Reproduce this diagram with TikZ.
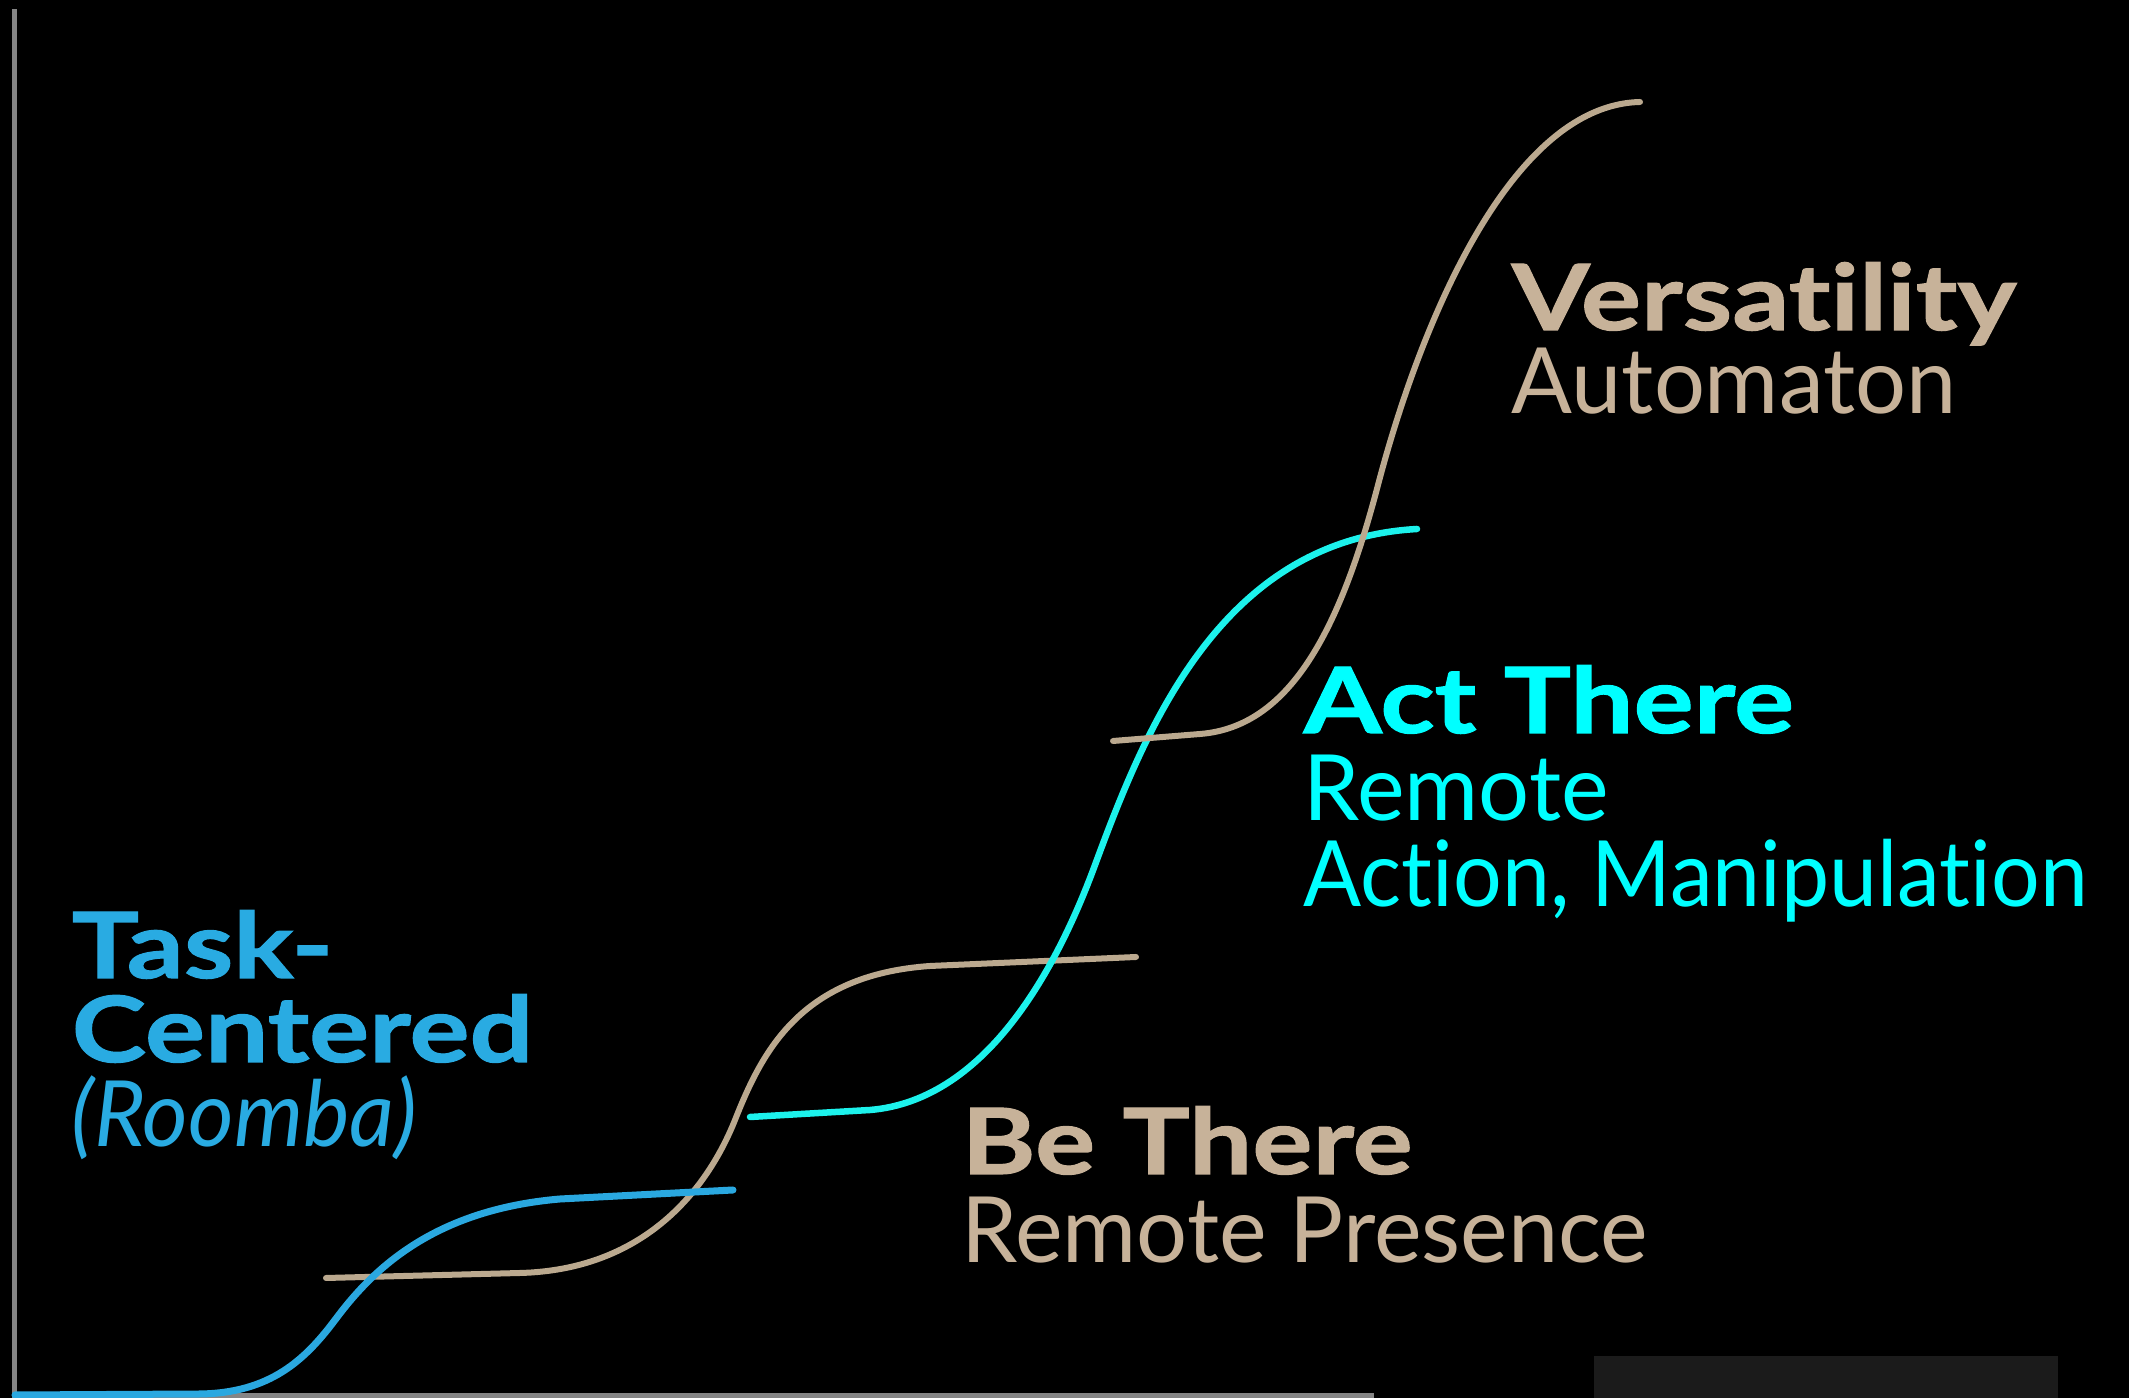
\documentclass[tikz,border=0pt]{standalone}
\usepackage{fontspec}
\setmainfont{Lato}[Ligatures=NoCommon, FakeStretch=0.985]
\newfontfamily\headfont{Lato}[Ligatures=NoCommon, FakeStretch=1.23, FakeBold=1.2]
\newfontfamily\notefont{Lato}[Ligatures=NoCommon, FakeStretch=0.96]
\newfontfamily\tightfont{Lato}[Ligatures=NoCommon, FakeStretch=0.94]
\definecolor{tantext}{HTML}{C7B299}
\definecolor{tanline}{HTML}{BBA98F}
\definecolor{cyantext}{HTML}{00FFFF}
\definecolor{cyanline}{HTML}{1CF2EC}
\definecolor{bluetext}{HTML}{29ABE2}
\definecolor{blueline}{HTML}{2AA8E0}
\definecolor{axisgray}{HTML}{858585}
\definecolor{boxgray}{HTML}{1B1B1B}
\tikzset{
  heading/.style={inner sep=0pt, anchor=base west, font=\headfont\bfseries\fontsize{26}{30}\selectfont},
  subline/.style={inner sep=0pt, anchor=base west, font=\fontsize{26}{30}\selectfont},
  noteline/.style={inner sep=0pt, anchor=base west, font=\notefont\itshape\fontsize{26}{30}\selectfont},
  stage/.style={line width=0.06cm, line cap=round, line join=round},
}
\begin{document}
\begin{tikzpicture}[x=0.01cm, y=-0.01cm]
  % canvas
  \fill[black] (0,0) rectangle (2129,1398);
  \useasboundingbox (0,0) rectangle (2129,1398);

  % axes
  \fill[axisgray] (12,9) rectangle (17,1398);
  \fill[axisgray] (12,1393) rectangle (1374,1398);

  % dark tab at the lower right
  \fill[boxgray] (1594,1356) rectangle (2058,1398);

  % stage curves: flat start, steep rise, flat plateau
  \draw[stage, tanline] (326,1278) -- (520,1273)
    .. controls (640,1270) and (705,1195) .. (735,1120)
    .. controls (762,1052) and (800,975) .. (930,966) -- (1136,957);
  \draw[stage, blueline, line width=0.07cm] (15,1395) -- (200,1394)
    .. controls (270,1393) and (305,1360) .. (335,1320)
    .. controls (370,1273) and (430,1210) .. (560,1199) -- (733,1190);
  \draw[stage, cyanline, line width=0.065cm] (750,1117) -- (870,1110)
    .. controls (990,1100) and (1060,960) .. (1095,865)
    .. controls (1145,730) and (1220,540) .. (1417,529);
  \draw[stage, tanline] (1113,741) -- (1200,734)
    .. controls (1290,727) and (1340,630) .. (1378,485)
    .. controls (1420,325) and (1510,105) .. (1640,102);

  % labels
  \node[heading, text=tantext] (vers) at (1511,330) {Versatility};
  \node[subline, text=tantext] (auto) at (1511,414) {Automaton};

  \node[heading, text=cyantext] (act) at (1303,733) {Act There};
  \node[subline, text=cyantext] (remote) at (1303,821) {Remote};
  \node[subline, text=cyantext, font=\tightfont\fontsize{26}{30}\selectfont] (manip) at (1303,907) {Action, Manipulation};

  \node[heading, text=tantext] (be) at (961,1174) {Be There};
  \node[subline, text=tantext] (presence) at (961,1263) {Remote Presence};

  \node[heading, text=bluetext] (task) at (71,978) {Task-};
  \node[heading, text=bluetext] (centered) at (71,1062) {Centered};
  \node[noteline, text=bluetext] (roomba) at (71,1147) {(Roomba)};
\end{tikzpicture}
\end{document}
